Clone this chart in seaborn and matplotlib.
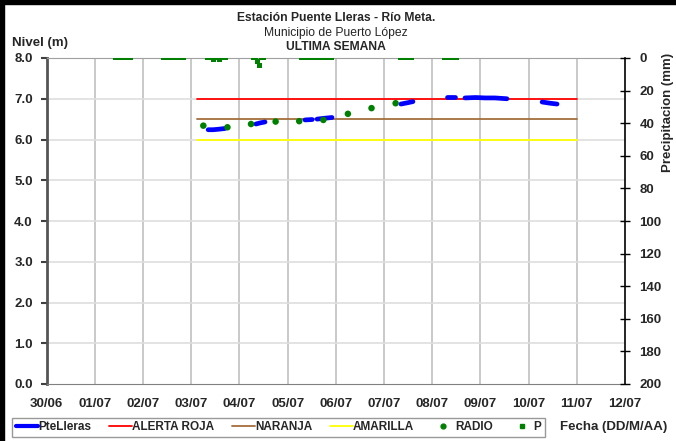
import matplotlib
matplotlib.use('Agg')
import matplotlib.pyplot as plt
from matplotlib.lines import Line2D
from matplotlib.patches import Rectangle
import seaborn as sns
import pandas as pd

# Chart data (x in days since 30/06 00:00)
tick_labels = ['30/06', '01/07', '02/07', '03/07', '04/07', '05/07', '06/07',
               '07/07', '08/07', '09/07', '10/07', '11/07', '12/07']

level_days = [3.35, 3.45, 3.55, 3.70, 4.34, 4.44, 4.53, 5.36, 5.51, 5.61, 5.75, 5.92,
              7.35, 7.48, 7.60, 8.31, 8.47, 8.68, 8.90, 9.10, 9.30, 9.55, 10.28, 10.45, 10.59]
level_vals = [6.24, 6.24, 6.25, 6.27, 6.38, 6.41, 6.43, 6.48, 6.49, 6.50, 6.52, 6.54,
              6.87, 6.90, 6.93, 7.04, 7.04, 7.02, 7.03, 7.02, 7.02, 7.00, 6.92, 6.89, 6.87]
level_seg = [1, 1, 1, 1, 2, 2, 2, 3, 3, 4, 4, 4, 5, 5, 5, 6, 6, 7, 7, 7, 7, 7, 8, 8, 8]

radio_days = [3.25, 3.75, 4.24, 4.75, 5.24, 5.74, 6.25, 6.74, 7.24]
radio_vals = [6.34, 6.30, 6.38, 6.44, 6.45, 6.48, 6.63, 6.77, 6.89]

# thresholds
alert_span = [3.125, 11.0]
roja = 7.0
naranja = 6.5
amarilla = 6.0

# precipitation (hour of the week, mm)
p_hours = [34, 35, 36, 37, 38, 39, 40, 41, 42,
           58, 59, 60, 61, 62, 63, 64, 65, 66, 67, 68,
           80, 81, 82, 83, 84, 85, 86, 87, 88, 89,
           103, 104, 105, 106, 107, 108,
           127, 128, 129, 130, 131, 132, 133, 134, 135, 136, 137, 138, 139, 140, 141, 142,
           176, 177, 178, 179, 180, 181, 182,
           198, 199, 200, 201, 202, 203, 204]
p_vals = [0, 0, 0, 0, 0, 0, 0, 0, 0,
          0, 0, 0, 0, 0, 0, 0, 0, 0, 0, 0,
          0, 0, 0, 0.8, 0, 0, 0.8, 0, 0, 0,
          0, 0, 2.0, 4.5, 0, 0,
          0, 0, 0, 0, 0, 0, 0, 0, 0, 0, 0, 0, 0, 0, 0, 0,
          0, 0, 0, 0, 0, 0, 0,
          0, 0, 0, 0, 0, 0, 0]

level_df = pd.DataFrame({'dia': level_days, 'nivel': level_vals, 'seg': level_seg})
radio_df = pd.DataFrame({'dia': radio_days, 'nivel': radio_vals})
p_df = pd.DataFrame({'dia': [h / 24 for h in p_hours], 'p': p_vals})

sns.set_style('white')
plt.rcParams['font.family'] = ['Liberation Sans', 'DejaVu Sans']
plt.rcParams['font.weight'] = 'bold'

W, H = 676, 441
fig = plt.figure(figsize=(W / 100, H / 100), dpi=100, facecolor='white')
ax = fig.add_axes([46.7 / W, 1 - 384 / H, (625 - 46.7) / W, (384 - 58) / H])

# grid
for d in range(1, 12):
    ax.axvline(d, color='#c0c0c0', lw=1.2, zorder=0)
for v in range(1, 8):
    ax.axhline(v, color='#dedede', lw=1.2, zorder=0)

# thresholds
for val, col in [(roja, '#ff0000'), (naranja, '#a46d3c'), (amarilla, '#ffff00')]:
    sns.lineplot(x=alert_span, y=[val, val], color=col, lw=1.3, ax=ax, zorder=2)

sns.lineplot(data=level_df, x='dia', y='nivel', units='seg', estimator=None,
             color='#0000ff', lw=3.4, ax=ax, zorder=3, solid_capstyle='round')
sns.scatterplot(data=radio_df, x='dia', y='nivel', color='#008000', s=22,
                edgecolor='none', ax=ax, zorder=4)

ax.set_xlim(0, 12)
ax.set_ylim(0, 8)
ax.set_xticks(range(13))
ax.set_xticklabels(tick_labels)
ax.set_yticks(range(9))
ax.set_yticklabels([f'{v:.1f}' for v in range(9)])
ax.set_xlabel('')
ax.set_ylabel('')
ax.tick_params(axis='x', direction='inout', length=6, width=1, color='#606060',
               labelsize=9.5, pad=7)
ax.tick_params(axis='y', direction='out', length=4, width=1.5, color='#404040',
               labelsize=9.5, pad=6)
for lab in ax.get_xticklabels() + ax.get_yticklabels():
    lab.set_fontweight('bold')
ax.spines['left'].set_color('#555555')
ax.spines['left'].set_linewidth(2)
ax.spines['bottom'].set_color('#808080')
ax.spines['top'].set_color('#a0a0a0')
ax.spines['right'].set_visible(False)

# precipitation axis
ax2 = ax.twinx()
sns.scatterplot(data=p_df, x='dia', y='p', color='#008000', marker='s', s=11,
                edgecolor='none', ax=ax2, zorder=5)
ax2.set_ylim(200, 0)
ax2.set_yticks(range(0, 201, 20))
ax2.set_ylabel('')
ax2.tick_params(axis='y', direction='inout', length=7, width=1, color='black',
                labelsize=9.5, pad=7)
for lab in ax2.get_yticklabels():
    lab.set_fontweight('bold')
for s in ['left', 'top', 'bottom']:
    ax2.spines[s].set_visible(False)
ax2.spines['right'].set_color('black')
ax2.spines['right'].set_linewidth(1.2)

# titles and labels
cx = (46.7 + 625) / 2 / W
fig.text(cx, 1 - 18 / H, 'Estación Puente Lleras - Río Meta.', ha='center', va='center',
         fontsize=8.7, fontweight='bold')
fig.text(cx, 1 - 33 / H, 'Municipio de Puerto López', ha='center', va='center',
         fontsize=8.7, fontweight='normal')
fig.text(cx, 1 - 47 / H, 'ULTIMA SEMANA', ha='center', va='center',
         fontsize=8.7, fontweight='bold')
fig.text(12 / W, 1 - 43 / H, 'Nivel (m)', ha='left', va='center', fontsize=9.5, fontweight='bold')
fig.text(668 / W, 1 - 112 / H, 'Precipitacion (mm)', ha='center', va='center', rotation=90,
         fontsize=9.5, fontweight='bold')
fig.text(560 / W, 1 - 427 / H, 'Fecha (DD/M/AA)', ha='left', va='center', fontsize=9.5,
         fontweight='bold')

# legend
handles = [
    Line2D([], [], color='#0000ff', lw=3),
    Line2D([], [], color='#ff0000', lw=1.3),
    Line2D([], [], color='#a46d3c', lw=1.3),
    Line2D([], [], color='#ffff00', lw=1.3),
    Line2D([], [], color='#008000', marker='o', ms=3.5, ls='none'),
    Line2D([], [], color='#008000', marker='s', ms=2.5, ls='none'),
]
names = ['PteLleras', 'ALERTA ROJA', 'NARANJA', 'AMARILLA', 'RADIO', 'P']
leg = fig.legend(handles, names, loc='lower left', ncol=6, mode='expand',
                 bbox_to_anchor=(12 / W, 1 - 437 / H, 533 / W, 20 / H),
                 frameon=True, fancybox=False, edgecolor='#808080', borderaxespad=0,
                 handlelength=1.9, handletextpad=0.05, columnspacing=0.5,
                 borderpad=0.3, prop={'size': 8.5, 'weight': 'bold'})
leg.get_frame().set_linewidth(1)

# black frame on left and top
fig.add_artist(Rectangle((0, 0), 4 / W, 1, transform=fig.transFigure, color='black'))
fig.add_artist(Rectangle((0, 1 - 4 / H), 1, 4 / H, transform=fig.transFigure, color='black'))

fig.savefig('out.png', dpi=100, facecolor='white')
